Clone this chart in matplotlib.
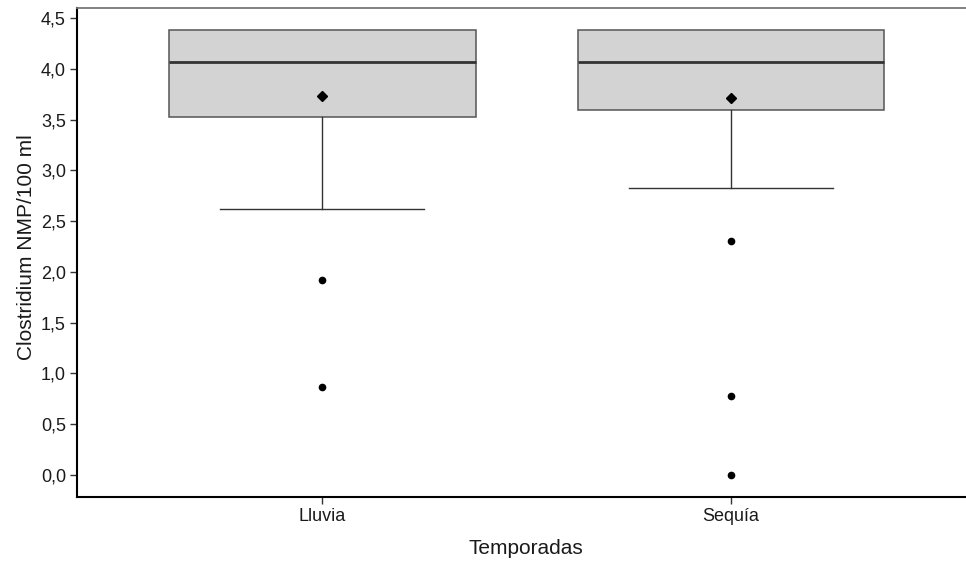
import matplotlib.pyplot as plt
from matplotlib.ticker import FuncFormatter

plt.rcParams['font.family'] = ['Liberation Sans', 'DejaVu Sans']

temporadas = ['Lluvia', 'Sequía']
q1 = [3.53, 3.60]
medianas = [4.07, 4.07]
q3 = [4.38, 4.38]
bigote_inf = [2.62, 2.83]
bigote_sup = [4.38, 4.38]
medias = [3.73, 3.71]
atipicos = [[1.92, 0.87], [2.31, 0.78, 0.0]]

stats = []
for i, t in enumerate(temporadas):
    stats.append({'label': t, 'q1': q1[i], 'med': medianas[i], 'q3': q3[i],
                  'whislo': bigote_inf[i], 'whishi': bigote_sup[i],
                  'fliers': atipicos[i], 'mean': medias[i]})

fig = plt.figure(figsize=(9.66, 5.65), dpi=100)
ax = fig.add_axes([0.0797, 0.1204, 0.9203, 0.8663])

bp = ax.bxp(stats, positions=[1, 2], widths=0.75, patch_artist=True,
            showmeans=True, showcaps=True,
            boxprops=dict(facecolor='#d3d3d3', edgecolor='#555555', linewidth=1.1),
            medianprops=dict(color='#333333', linewidth=2),
            whiskerprops=dict(color='#333333', linewidth=1),
            capprops=dict(color='#333333', linewidth=1),
            capwidths=0.5,
            flierprops=dict(marker='o', markerfacecolor='black', markeredgecolor='black', markersize=4.5),
            meanprops=dict(marker='D', markerfacecolor='black', markeredgecolor='black', markersize=5))

# sin bigote superior cuando coincide con el tercer cuartil
for i in range(len(temporadas)):
    if bigote_sup[i] <= q3[i]:
        bp['caps'][2 * i + 1].set_visible(False)
        bp['whiskers'][2 * i + 1].set_visible(False)

ax.set_xlim(0.4, 2.575)
ax.set_ylim(-0.217, 4.606)
ax.set_yticks([0, 0.5, 1, 1.5, 2, 2.5, 3, 3.5, 4, 4.5])
ax.yaxis.set_major_formatter(FuncFormatter(lambda v, p: f'{v:.1f}'.replace('.', ',')))

for s in ['left', 'bottom']:
    ax.spines[s].set_linewidth(1.5)
    ax.spines[s].set_color('black')
ax.spines['right'].set_visible(False)
ax.spines['top'].set_color('#777777')
ax.spines['top'].set_linewidth(1.3)

ax.tick_params(axis='both', length=5, width=1, color='#333333', labelsize=13, labelcolor='#1a1a1a', pad=3)

ax.set_ylabel('Clostridium NMP/100 ml', fontsize=15, color='#1a1a1a')
ax.set_xlabel('Temporadas', fontsize=15, color='#1a1a1a')
ax.xaxis.set_label_coords(0.505, -0.085)
ax.yaxis.set_label_coords(-0.046, 0.51)

plt.savefig('out.png', dpi=100)
